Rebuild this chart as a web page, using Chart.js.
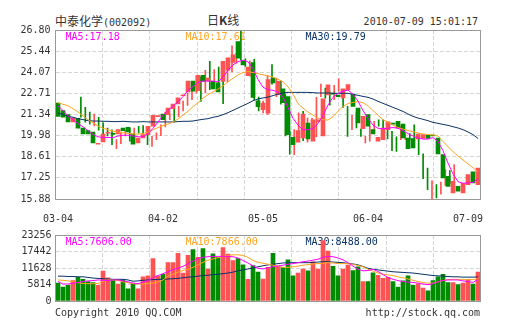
<!DOCTYPE html>
<html>
<head>
<meta charset="utf-8">
<script src="https://cdn.jsdelivr.net/npm/chart.js@4.4.0/dist/chart.umd.min.js"></script>
<style>
body { margin: 0; background: #fff; width: 505px; height: 330px; position: relative; overflow: hidden;
       font-family: "DejaVu Sans Mono", monospace; font-size: 10px; color: #333; }
.t { position: absolute; white-space: nowrap; line-height: 12px; }
.cn { font-family: "Noto Sans CJK SC", sans-serif; font-size: 12px; }
canvas { position: absolute; left: 0; }
</style>
</head>
<body>
<div class="t" style="left:55px;top:15px"><span class="cn">中泰化学</span>(002092)</div>
<div class="t cn" style="left:207px;top:14px">日<b>K</b>线</div>
<div class="t" style="right:27px;top:16px">2010-07-09 15:01:17</div>
<canvas id="kline" width="505" height="225" style="top:0"></canvas>
<canvas id="vol" width="505" height="105" style="top:225px"></canvas>
<div class="t" style="left:55px;top:307px">Copyright 2010 QQ.COM</div>
<div class="t" style="right:25px;top:307px">http://stock.qq.com</div>
<script>
// daily candles, 2010-03-04 .. 2010-07-09
const opens  = [22.08,21.60,21.33,20.86,21.09,20.47,20.30,20.21,19.42,19.57,20.13,20.12,20.08,20.47,20.51,20.08,19.50,19.82,20.04,20.58,
                21.20,21.37,21.33,21.72,22.02,22.55,22.80,23.50,22.88,23.87,23.50,23.48,23.38,23.48,24.20,24.70,26.05,24.82,23.85,24.70,
                22.22,21.65,21.42,23.70,22.62,23.00,22.50,19.86,19.55,19.82,20.79,19.61,20.90,19.95,22.60,22.70,22.60,22.41,22.95,22.66,
                21.76,20.42,21.33,20.36,19.61,19.72,20.36,20.79,20.90,20.72,19.82,19.78,19.76,19.80,20.00,20.00,19.82,18.75,17.35,16.27,
                16.70,16.27,16.81,17.63,16.81];
const highs  = [22.47,21.80,21.50,21.37,21.15,20.80,20.47,20.35,19.72,20.21,20.30,20.47,20.47,20.58,20.62,20.21,19.93,20.15,20.68,21.50,
                21.37,21.70,21.86,22.20,22.73,22.86,23.82,23.76,24.20,24.78,24.25,24.40,23.50,24.90,25.78,25.30,26.76,24.94,24.80,24.90,
                22.47,22.20,23.85,24.56,23.70,23.50,22.62,20.25,20.36,21.44,21.54,21.11,21.10,22.45,23.30,23.05,22.80,23.22,23.65,22.84,
                21.87,21.29,21.44,20.40,19.93,20.58,20.90,21.00,21.00,20.79,20.25,19.90,20.58,20.10,20.10,20.68,20.08,18.80,17.88,17.06,
                16.81,16.98,17.78,17.72,18.10];
const lows   = [21.16,20.84,20.72,20.60,20.32,19.82,19.95,19.39,19.13,19.45,19.95,19.61,20.00,20.15,20.08,19.39,19.28,19.72,19.97,20.54,
                21.00,20.86,21.20,21.57,21.93,22.30,22.73,22.19,22.73,22.95,23.38,22.84,22.04,23.44,24.10,24.65,24.87,24.45,23.82,22.30,
                21.57,21.45,21.35,23.30,22.50,22.00,19.95,18.78,18.75,19.72,19.65,19.56,20.80,19.90,22.50,22.40,21.95,22.30,22.84,21.80,
                19.93,20.36,20.47,19.93,19.50,19.61,20.15,20.58,20.36,19.76,19.00,18.96,19.72,19.72,19.72,19.50,18.75,17.20,16.48,15.84,
                15.95,16.20,16.76,16.85,16.76];
const closes = [21.22,21.16,20.86,21.11,20.45,20.08,20.08,19.50,19.48,20.08,20.17,20.05,20.36,20.30,20.21,19.43,19.82,20.04,20.58,21.29,
                21.25,21.00,21.76,22.02,22.41,22.60,23.50,22.84,23.87,23.48,23.70,23.00,22.80,24.78,25.00,25.20,24.98,24.55,24.40,22.45,
                21.85,22.08,23.60,23.38,23.48,22.10,20.04,19.39,20.30,21.37,19.76,21.00,21.00,22.35,23.25,22.66,22.50,23.00,23.27,21.87,
                20.79,21.22,20.58,20.08,19.86,20.47,20.86,20.72,20.47,19.82,19.13,19.18,20.08,20.04,19.80,19.95,18.80,17.24,16.70,17.02,
                16.38,16.90,17.45,16.92,17.88];
const ma5  = [21.90,21.60,21.25,21.00,20.75,20.55,20.30,20.05,19.90,19.85,19.85,19.85,19.95,20.00,20.00,19.95,19.90,19.90,20.10,20.45,
              20.85,21.30,21.60,21.90,22.15,22.50,22.90,23.15,23.40,23.50,23.50,23.50,23.45,23.75,24.20,24.55,24.75,24.85,24.75,24.30,
              23.60,23.10,22.95,22.90,22.80,22.45,21.80,21.10,20.65,20.35,20.35,20.45,20.75,21.30,21.95,22.45,22.70,22.85,22.92,22.65,
              22.20,21.60,21.10,20.65,20.45,20.42,20.45,20.50,20.45,20.30,20.10,19.95,19.82,19.75,19.75,19.85,19.60,19.00,18.20,17.50,
              17.00,16.90,16.92,16.95,17.18];
const ma10 = [22.10,22.00,21.90,21.72,21.50,21.25,21.00,20.80,20.60,20.45,20.35,20.27,20.20,20.15,20.12,20.08,20.07,20.12,20.20,20.35,
              20.50,20.62,20.72,20.85,21.05,21.30,21.55,21.85,22.10,22.40,22.62,22.80,22.98,23.20,23.45,23.68,23.90,24.05,24.12,24.05,
              23.98,23.90,23.83,23.75,23.62,23.45,23.14,22.65,22.05,21.75,21.50,21.30,21.10,21.00,20.98,21.20,21.55,21.85,22.05,22.12,
              22.17,22.10,21.90,21.60,21.30,21.00,20.85,20.65,20.50,20.40,20.30,20.23,20.15,20.08,20.05,20.02,19.95,19.60,19.25,18.95,
              18.65,18.40,18.15,17.90,17.61];
const ma30 = [21.44,21.33,21.22,21.16,21.07,21.01,20.94,20.92,20.92,20.90,20.90,20.88,20.88,20.90,20.88,20.86,20.86,20.88,20.86,20.86,
              20.86,20.86,20.86,20.86,20.88,20.90,20.90,20.92,20.98,21.03,21.07,21.16,21.22,21.33,21.46,21.61,21.76,21.91,22.06,22.23,
              22.34,22.41,22.47,22.56,22.66,22.73,22.77,22.77,22.77,22.77,22.77,22.75,22.73,22.73,22.73,22.71,22.71,22.71,22.71,22.64,
              22.58,22.51,22.45,22.34,22.19,22.06,21.93,21.80,21.67,21.54,21.37,21.22,21.11,21.03,20.94,20.83,20.77,20.70,20.64,20.55,
              20.47,20.36,20.21,20.04,19.79];

const volumes = [6310,4870,5535,7195,8300,7640,6860,6530,5535,10515,8190,7640,5980,7420,4320,6090,4320,8520,8860,14945,
                 8745,9410,13505,13505,16830,9850,16050,18150,15390,18490,11290,16600,15390,18820,16490,14280,14945,12730,7640,12500,
                 10185,7750,11845,16830,12400,11845,14500,8860,9850,11290,10630,13840,11290,21250,17600,12180,8860,11290,12620,10740,
                 12070,6860,6860,9960,9080,7970,8300,6860,4870,7085,8860,5535,6090,4540,3540,7195,8520,9410,6530,6530,
                 5760,6310,7640,5980,10185];
const volMa5  = [6860,5980,5980,6310,6530,6860,7085,7195,7420,7305,7195,7420,7420,7085,6750,6310,6090,6640,7195,8190,
                 8970,9630,10300,11070,11625,12180,13170,14060,14945,15390,15610,15720,15720,15720,15720,15610,15170,14280,13395,12400,
                 11510,11290,11735,12070,12290,12620,12950,13170,13500,13840,14060,14390,14720,15390,15720,15610,15170,14500,13500,12290,
                 11180,10630,10740,11180,10410,9300,8300,7640,7195,6860,6640,6530,6310,5980,5760,6090,6750,7305,7420,7420,
                 7420,7085,6860,6530,7606];
const volMa10 = [7420,7305,7085,6750,6420,6200,6090,6090,6200,6860,7420,7420,7195,6750,6420,6090,5980,5980,6090,6310,
                 6750,7420,8745,9410,10185,10740,11180,11845,12730,13620,14390,14830,15280,15610,16050,16270,16270,16050,15390,14280,
                 13620,13280,12950,12620,12180,11845,11845,12070,12290,12620,12840,13060,13170,13280,13500,13390,13170,13170,13170,12950,
                 12510,12070,11180,10520,9850,9410,9190,8970,8520,8190,7750,7305,6860,6530,6310,6310,6750,7195,7530,7640,
                 7640,7640,7530,7530,7866];
const volMa30 = [8745,8745,8635,8635,8525,8525,8300,8080,7970,7860,7750,7640,7640,7640,7420,6975,7085,7305,7420,7530,
                 7640,7640,7750,7860,7970,8190,8410,8525,8745,8970,9080,9300,9410,9630,9850,10185,10630,10960,11290,11625,
                 12070,12400,12730,12950,13170,13400,13500,13500,13500,13500,13500,13620,13730,13840,13840,13730,13620,13500,13280,13060,
                 12730,12180,11510,11180,10960,10740,10520,10300,10185,10075,9960,9850,9630,9410,9190,8970,8860,8745,8635,8525,
                 8525,8410,8410,8410,8488];

const priceTicks = [15.88, 17.25, 18.61, 19.98, 21.34, 22.71, 24.07, 25.44, 26.80];
const volTicks = [0, 5814, 11628, 17442, 23256];
const tickDays = ['03-04', '04-02', '05-05', '06-04', '07-09'];
const tickAt = [0, 21, 41, 62, 82];

const RED = '#ff5252', GREEN = '#008c00';
const MA5C = '#ff00ff', MA10C = '#ffa520', MA30C = '#0a3366';
const FONT = { family: 'DejaVu Sans Mono', size: 10 };

const colors = opens.map((o, i) => closes[i] >= o ? RED : GREEN);
const labels = opens.map((o, i) => {
    const k = tickAt.indexOf(i);
    return k < 0 ? '' : tickDays[k];
});

// grey box round the plot
const frame = {
    id: 'frame',
    afterDraw(chart) {
        const a = chart.chartArea, ctx = chart.ctx;
        const l = Math.floor(a.left), t = Math.floor(a.top);
        ctx.save();
        ctx.strokeStyle = '#999';
        ctx.lineWidth = 1;
        ctx.strokeRect(l + 0.5, t + 0.5, Math.floor(a.right) - l, Math.floor(a.bottom) - t);
        ctx.restore();
    }
};

// MA captions sit under the marks
function maText(items) {
    return {
        id: 'maText',
        beforeDatasetsDraw(chart) {
            const ctx = chart.ctx, a = chart.chartArea;
            ctx.save();
            ctx.font = '10px "DejaVu Sans Mono"';
            ctx.textBaseline = 'middle';
            items.forEach(([txt, col, dx]) => {
                ctx.fillStyle = col;
                ctx.fillText(txt, a.left + dx, a.top + 7);
            });
            ctx.restore();
        }
    };
}

function line(data, color, order) {
    return { type: 'line', data: data, borderColor: color, borderWidth: 1, pointRadius: 0,
             tension: 0, order: order };
}

const vGrid = {
    type: 'linear', min: 0, max: 8, position: 'bottom',
    ticks: { display: false, stepSize: 1 },
    grid: { color: '#d6d6d6', drawTicks: false },
    border: { display: false, dash: [4, 2] },
    afterFit: s => { s.height = 0; }
};

new Chart('kline', {
    type: 'bar',
    data: {
        labels: labels,
        datasets: [
            line(ma5, MA5C, 0),
            line(ma10, MA10C, 1),
            line(ma30, MA30C, 2),
            { type: 'bar', data: opens.map((o, i) => [o, closes[i]]), backgroundColor: colors,
              barThickness: 4, minBarLength: 1, grouped: false, order: 3 },
            { type: 'bar', xAxisID: 'xw', data: lows.map((l, i) => ({ x: i, y: [l, highs[i]] })),
              backgroundColor: colors, barThickness: 1, grouped: false, order: 4 }
        ]
    },
    options: {
        responsive: false, animation: false, devicePixelRatio: 1,
        layout: { padding: { top: 30, right: 24.5, left: 0.5, bottom: 0 } },
        plugins: { legend: { display: false }, tooltip: { enabled: false } },
        scales: {
            x: {
                grid: { display: false, drawTicks: false }, border: { display: false },
                ticks: { autoSkip: false, maxRotation: 0, color: '#333', font: FONT, padding: 14,
                         callback: function (v) { return this.getLabelForValue(v); } },
                afterFit: s => { s.height = 26; }
            },
            xw: { type: 'linear', display: false, min: -0.4, max: 84.6 },
            x2: vGrid,
            y: {
                min: 15.88, max: 26.80,
                afterBuildTicks: s => { s.ticks = priceTicks.map(v => ({ value: v })); },
                ticks: { color: '#333', font: FONT, padding: 5, callback: v => v.toFixed(2) },
                grid: { color: '#d6d6d6', drawTicks: false },
                border: { display: false, dash: [4, 2] },
                afterFit: s => { s.width = 55; }
            }
        }
    },
    plugins: [frame, maText([['MA5:17.18', MA5C, 10], ['MA10:17.61', MA10C, 130], ['MA30:19.79', MA30C, 250]])]
});

new Chart('vol', {
    type: 'bar',
    data: {
        labels: labels,
        datasets: [
            line(volMa5, MA5C, 0),
            line(volMa10, MA10C, 1),
            line(volMa30, MA30C, 2),
            { type: 'bar', data: volumes, backgroundColor: colors, barThickness: 4, grouped: false, order: 3 }
        ]
    },
    options: {
        responsive: false, animation: false, devicePixelRatio: 1,
        layout: { padding: { top: 6, right: 24.5, left: 0.5, bottom: 0 } },
        plugins: { legend: { display: false }, tooltip: { enabled: false } },
        scales: {
            x: { grid: { display: false }, border: { display: false }, ticks: { display: false },
                 afterFit: s => { s.height = 29; } },
            x2: vGrid,
            y: {
                min: 0, max: 23256,
                afterBuildTicks: s => { s.ticks = volTicks.map(v => ({ value: v })); },
                ticks: { color: '#333', font: FONT, padding: 4, callback: v => String(v) },
                grid: { color: '#d6d6d6', drawTicks: false },
                border: { display: false, dash: [4, 2] },
                afterFit: s => { s.width = 55; }
            }
        }
    },
    plugins: [frame, maText([['MA5:7606.00', MA5C, 10], ['MA10:7866.00', MA10C, 130], ['MA30:8488.00', MA30C, 250]])]
});
</script>
</body>
</html>
